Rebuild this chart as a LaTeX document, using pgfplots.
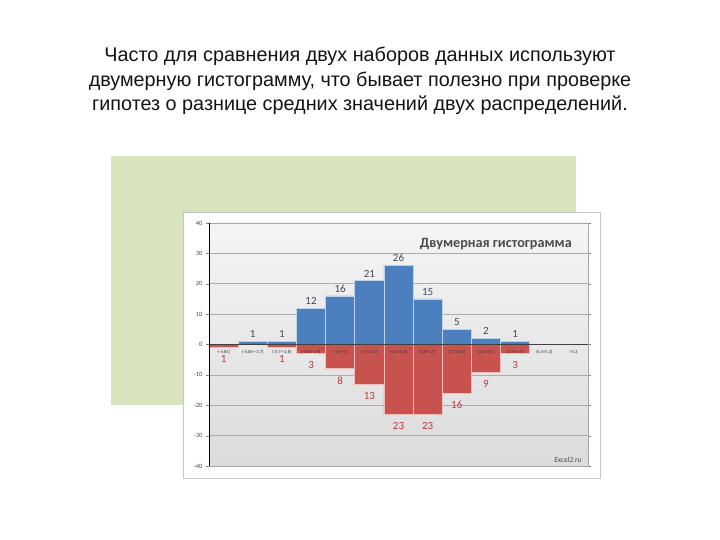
\documentclass[border=0pt]{standalone}
\usepackage{fontspec}
\setmainfont{Liberation Sans}
\newfontfamily\carlito{Carlito}
\usepackage{pgfplots}
\pgfplotsset{compat=1.18}
\definecolor{slidegreen}{RGB}{215,228,189}
\definecolor{barblue}{RGB}{76,127,189}
\definecolor{barred}{RGB}{200,82,78}
\definecolor{lblblue}{RGB}{64,72,90}
\definecolor{lblred}{RGB}{185,58,58}
\definecolor{edgeblue}{RGB}{190,210,235}
\definecolor{edgered}{RGB}{238,190,188}
\begin{document}
\begin{tikzpicture}
\path[use as bounding box, fill=white] (0,0) rectangle (720bp,540bp);
\node[anchor=base, inner sep=0pt, font=\fontsize{19.8bp}{24bp}\selectfont, color=black!92] at (360bp,478bp) {Часто для сравнения двух наборов данных используют};
\node[anchor=base, inner sep=0pt, font=\fontsize{19.8bp}{24bp}\selectfont, color=black!92] at (360bp,453bp) {двумерную гистограмму, что бывает полезно при проверке};
\node[anchor=base, inner sep=0pt, font=\fontsize{19.8bp}{24bp}\selectfont, color=black!92] at (360bp,429bp) {гипотез о разнице средних значений двух распределений.};
\fill[slidegreen] (111bp,135bp) rectangle (576bp,384bp);
\draw[gray!45, fill=white] (183bp,62bp) rectangle (600bp,328bp);
\begin{axis}[
  name=ax,
  at={(209bp,74bp)}, anchor=south west, scale only axis,
  width=379bp, height=243bp,
  ymin=-40, ymax=40, ytick={-40,-30,-20,-10,0,10,20,30,40},
  xmin=-0.5, xmax=12.5, xtick=\empty,
  y tick label style={font=\carlito\fontsize{6.5bp}{7bp}\selectfont, color=black!70},
  /pgf/number format/assume math mode=true,
  tick align=outside, major tick length=3bp,
  ymajorgrids, grid style={gray!65, line width=0.5bp},
  axis background/.style={top color=gray!8, bottom color=gray!28},
  axis line style={gray!70},
  ybar, bar width=1, bar shift=0pt,
  nodes near coords,
]
\addplot[fill=barblue, draw=edgeblue, line width=0.6bp,
  every node near coord/.append style={font=\carlito\fontsize{11bp}{11bp}\selectfont, color=lblblue}]
  coordinates {(1,1) (2,1) (3,12) (4,16) (5,21) (6,26) (7,15) (8,5) (9,2) (10,1)};
\addplot[fill=barred, draw=edgered, line width=0.6bp,
  point meta={-y},
  every node near coord/.append style={font=\carlito\fontsize{11bp}{11bp}\selectfont, color=lblred, yshift=-19bp}]
  coordinates {(0,-1) (2,-1) (3,-3) (4,-8) (5,-13) (6,-23) (7,-23) (8,-16) (9,-9) (10,-3)};
\addplot[draw=none, fill=none, point meta=explicit symbolic,
  every node near coord/.append style={font=\carlito\fontsize{4.5bp}{5bp}\selectfont, color=black!80, inner sep=0.5bp, yshift=-10bp}]
  table[x=x, y=y, meta=lab] {
x y lab
0 0 <-4.85]
1 0 (-4.85÷-3.7]
2 0 (-3.7÷-2.8]
3 0 (-2.8÷-1.9]
4 0 (-1.9÷-1]
5 0 (-1÷-0.1]
6 0 (-0.1÷0.8]
7 0 (0.8÷1.7]
8 0 (1.7÷2.6]
9 0 (2.6÷3.5]
10 0 (3.5÷4.4]
11 0 (4.4÷5.3]
12 0 >5.3
};
\end{axis}
\draw[black!75, line width=0.9bp] (ax.west) -- (ax.east);
\draw[black, line width=0.8bp] (ax.south west) -- (ax.north west);
\node[anchor=east, inner sep=0pt, font=\carlito\bfseries\fontsize{14.2bp}{15bp}\selectfont, color=black!70] at (572bp,296bp) {Двумерная гистограмма};
\node[anchor=south east, font=\carlito\itshape\fontsize{7.5bp}{8bp}\selectfont, color=black!70] at (585bp,74bp) {Excel2.ru};
\end{tikzpicture}
\end{document}
